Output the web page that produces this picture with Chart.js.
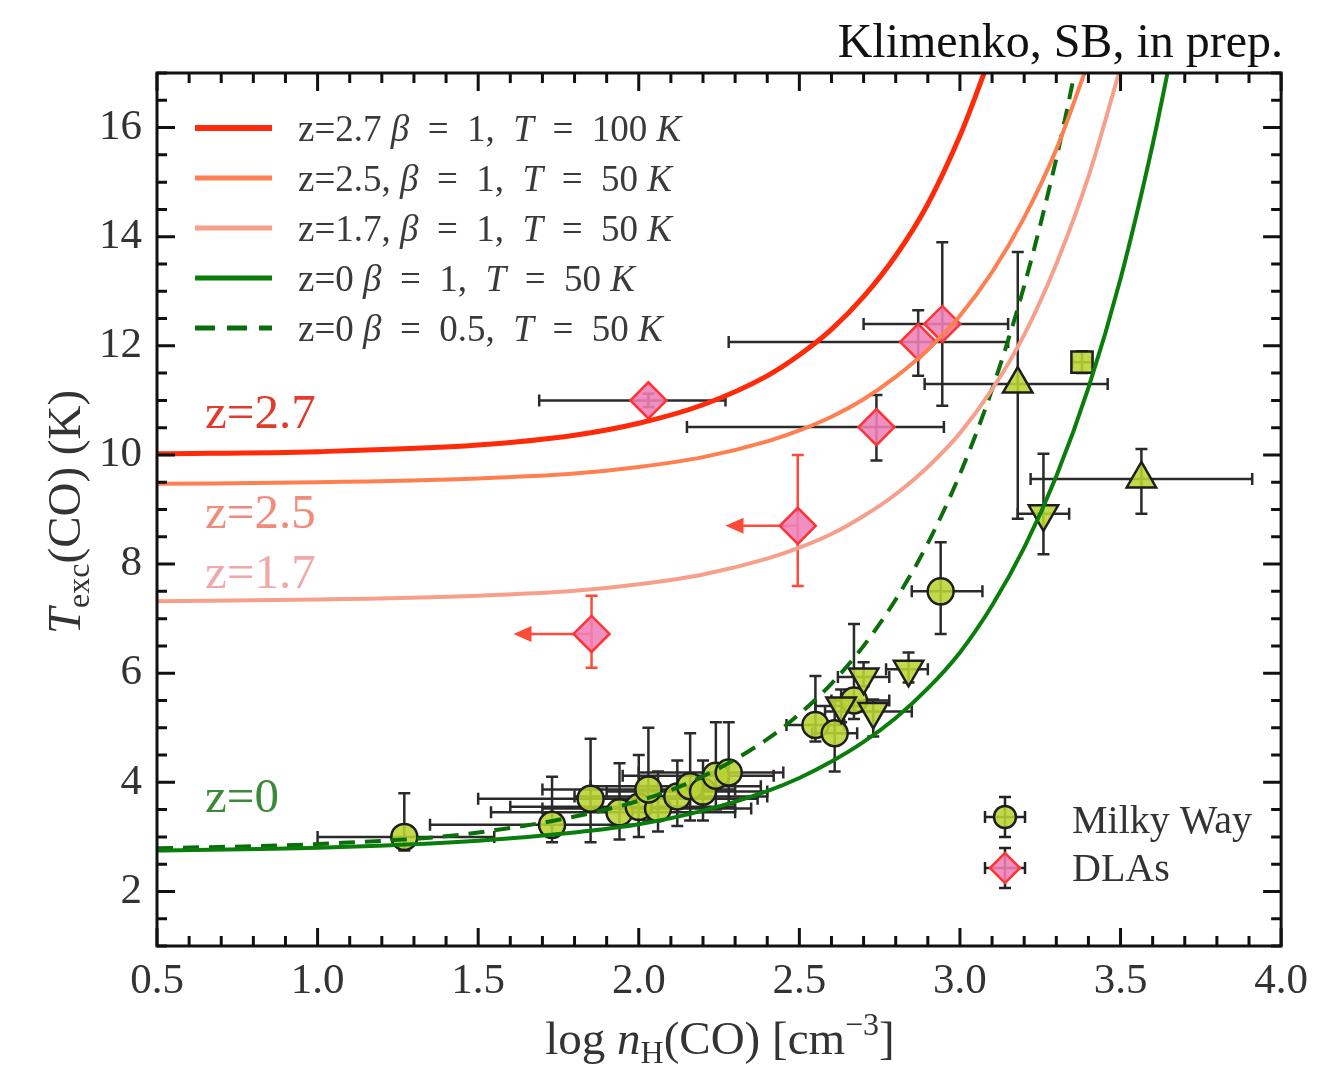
<!DOCTYPE html>
<html lang="en">
<head>
<meta charset="UTF-8">
<title>Texc(CO) vs log nH(CO)</title>
<script src="https://cdn.jsdelivr.net/npm/chart.js@4.4.1/dist/chart.umd.min.js"></script>
<style>
  html, body { margin: 0; padding: 0; background: #fff; }
  #wrap { width: 1318px; height: 1070px; }
</style>
</head>
<body>
<div id="wrap"><canvas id="grafik" width="1318" height="1070"></canvas></div>
<script>
// tick labels
const xTicks = [0.5, 1.0, 1.5, 2.0, 2.5, 3.0, 3.5, 4.0];
const yTicks = [2, 4, 6, 8, 10, 12, 14, 16];

// model curves, Texc vs log nH
const z27X = [0.5, 1.0, 1.5, 1.8, 2.0, 2.2, 2.4, 2.5, 2.6, 2.7, 2.8, 2.9, 3.0, 3.05, 3.1];
const z27Y = [10.02, 10.06, 10.18, 10.36, 10.58, 10.92, 11.45, 11.83, 12.3, 12.9, 13.65, 14.6, 15.85, 16.6, 17.4];

const z25X = [0.5, 1.0, 1.5, 1.8, 2.0, 2.2, 2.4, 2.5, 2.6, 2.7, 2.8, 2.9, 3.0, 3.1, 3.2, 3.3, 3.4];
const z25Y = [9.47, 9.5, 9.57, 9.66, 9.78, 9.96, 10.25, 10.45, 10.7, 11.02, 11.43, 11.93, 12.55, 13.35, 14.35, 15.6, 17.2];

const z17X = [0.5, 1.0, 1.5, 1.8, 2.0, 2.2, 2.4, 2.5, 2.6, 2.7, 2.8, 2.9, 3.0, 3.1, 3.2, 3.3, 3.4, 3.5];
const z17Y = [7.32, 7.35, 7.42, 7.51, 7.63, 7.81, 8.1, 8.3, 8.55, 8.88, 9.28, 9.78, 10.4, 11.2, 12.2, 13.5, 15.1, 17.1];

const z0X = [0.5, 1.0, 1.5, 1.8, 2.0, 2.2, 2.4, 2.5, 2.6, 2.7, 2.8, 2.9, 3.0, 3.1, 3.2, 3.3, 3.4, 3.5, 3.6, 3.66];
const z0Y = [2.75, 2.8, 2.93, 3.08, 3.23, 3.48, 3.84, 4.08, 4.38, 4.74, 5.18, 5.72, 6.38, 7.24, 8.3, 9.61, 11.23, 13.23, 15.69, 17.4];

const z0hX = [0.5, 1.0, 1.5, 2.0, 2.2, 2.4, 2.5, 2.6, 2.7, 2.8, 2.9, 3.0, 3.1, 3.2, 3.3, 3.35, 3.4];
const z0hY = [2.79, 2.87, 3.08, 3.66, 4.11, 4.79, 5.25, 5.81, 6.5, 7.35, 8.38, 9.65, 11.2, 13.1, 15.43, 16.8, 18.3];

// Milky Way measurements
const mwX    = [1.27, 1.73, 1.85, 1.94, 2.0, 2.06, 2.03, 2.12, 2.16, 2.2, 2.24, 2.28, 2.55, 2.61, 2.67, 2.63, 2.70, 2.73, 2.84, 2.94, 3.26, 3.18, 3.38, 3.565];
const mwY    = [3.0, 3.22, 3.7, 3.45, 3.55, 3.52, 3.87, 3.74, 3.93, 3.83, 4.12, 4.18, 5.05, 4.9, 5.5, 5.4, 5.93, 5.3, 6.07, 7.5, 8.92, 11.3, 11.7, 9.56];
const mwXlo  = [1.0, 1.35, 1.5, 1.54, 1.6, 1.7, 1.7, 1.8, 1.85, 1.9, 1.95, 2.0, 2.46, 2.54, 2.6, 2.55, 2.62, 2.58, 2.77, 2.85, 3.18, 2.89, 3.35, 3.22];
const mwXhi  = [1.55, 2.0, 2.37, 2.3, 2.3, 2.35, 2.3, 2.4, 2.38, 2.4, 2.42, 2.45, 2.64, 2.68, 2.78, 2.7, 2.78, 2.85, 2.9, 3.07, 3.34, 3.46, 3.41, 3.91];
const mwYlo  = [2.75, 2.9, 2.9, 2.95, 3.0, 3.1, 3.3, 3.2, 3.3, 3.3, 3.5, 3.6, 4.75, 4.2, 5.16, 5.1, 5.76, 4.84, 5.83, 6.72, 8.18, 8.83, 11.5, 8.92];
const mwYhi  = [3.8, 4.1, 4.8, 4.35, 4.5, 4.2, 5.0, 4.4, 4.9, 4.4, 5.1, 5.1, 5.95, 5.5, 6.9, 5.7, 6.2, 5.52, 6.38, 8.4, 10.02, 13.72, 11.9, 10.11];
const mwShape = ['circle', 'circle', 'circle', 'circle', 'circle', 'circle', 'circle', 'circle', 'circle', 'circle', 'circle', 'circle',
                 'circle', 'circle', 'circle', 'down', 'down', 'down', 'down', 'circle', 'down', 'up', 'square', 'up'];

// DLA measurements (upper limits on nH drawn as arrows)
const dlaX   = [2.03, 2.87, 2.945, 2.74, 2.495, 1.853];
const dlaY   = [11.0, 12.07, 12.4, 10.51, 8.7, 6.72];
const dlaXlo = [1.69, 2.28, 2.70, 2.15, 2.27, 1.61];
const dlaXhi = [2.27, 3.15, 3.15, 2.95, null, null];
const dlaYlo = [10.88, 11.45, 10.9, 9.9, 7.6, 6.1];
const dlaYhi = [11.12, 12.65, 13.9, 11.1, 10.0, 7.42];
const dlaLimit = [false, false, false, false, true, true];

const SERIF = '"Liberation Serif", "DejaVu Serif", serif';
const F = (size, italic) => (italic ? 'italic ' : '') + size + 'px ' + SERIF;

const RED = '#ff2a0a', ORANGE = '#ff7f50', PINK = '#f6a08c', GREEN = '#0b7d0b', DGREEN = '#0b6e0b';
const MW_FILL = 'rgba(184, 212, 50, 0.88)', MW_EDGE = '#1e1e1e';
const DLA_FILL = 'rgba(240, 128, 184, 0.88)', DLA_EDGE = '#ff3333';

const pts = (xs, ys) => xs.map((v, i) => ({ x: v, y: ys[i] }));

function curve(xs, ys, color, width, dash) {
    return {
        data: pts(xs, ys), showLine: true, pointRadius: 0, borderColor: color, borderWidth: width,
        borderDash: dash || [], cubicInterpolationMode: 'monotone', order: 0, fill: false
    };
}

const styleOf = s => s === 'circle' ? 'circle' : s === 'square' ? 'rect' : 'triangle';
const rotOf = s => s === 'down' ? 180 : 0;
const radOf = s => s === 'circle' ? 13 : s === 'square' ? 15 : 17;

// draws several text pieces in a row: [text, font, dy]
function richText(ctx, parts, x, y, align) {
    let w = 0;
    parts.forEach(p => { ctx.font = p[1]; w += ctx.measureText(p[0]).width; });
    let cx = align === 'center' ? x - w / 2 : (align === 'right' ? x - w : x);
    ctx.textAlign = 'left';
    parts.forEach(p => {
        ctx.font = p[1];
        ctx.fillText(p[0], cx, y + (p[2] || 0));
        cx += ctx.measureText(p[0]).width;
    });
}

const errPlugin = {
    id: 'errbars',
    beforeDatasetsDraw(chart) {
        const { ctx, chartArea: a, scales: { x, y } } = chart;
        const cap = 6;
        ctx.save();
        ctx.beginPath(); ctx.rect(a.left, a.top, a.right - a.left, a.bottom - a.top); ctx.clip();
        ctx.lineWidth = 2.5;
        const seg = (x1, y1, x2, y2) => { ctx.beginPath(); ctx.moveTo(x1, y1); ctx.lineTo(x2, y2); ctx.stroke(); };
        const bars = (px, py, lo, hi, ylo, yhi) => {
            if (lo !== null) {
                seg(lo, py, hi, py);
                seg(lo, py - cap, lo, py + cap); seg(hi, py - cap, hi, py + cap);
            }
            seg(px, ylo, px, yhi);
            seg(px - cap, ylo, px + cap, ylo); seg(px - cap, yhi, px + cap, yhi);
        };
        ctx.strokeStyle = '#2a2a2a';
        mwX.forEach((v, i) => {
            bars(x.getPixelForValue(v), y.getPixelForValue(mwY[i]),
                 x.getPixelForValue(mwXlo[i]), x.getPixelForValue(mwXhi[i]),
                 y.getPixelForValue(mwYlo[i]), y.getPixelForValue(mwYhi[i]));
        });
        dlaX.forEach((v, i) => {
            const px = x.getPixelForValue(v), py = y.getPixelForValue(dlaY[i]);
            const ylo = y.getPixelForValue(dlaYlo[i]), yhi = y.getPixelForValue(dlaYhi[i]);
            if (dlaLimit[i]) {
                ctx.strokeStyle = '#ff4a3a'; ctx.fillStyle = '#ff4a3a';
                const tip = x.getPixelForValue(dlaXlo[i]);
                bars(px, py, null, null, ylo, yhi);
                seg(px, py, tip + 12, py);
                ctx.beginPath(); ctx.moveTo(tip, py); ctx.lineTo(tip + 18, py - 8); ctx.lineTo(tip + 18, py + 8); ctx.closePath(); ctx.fill();
            } else {
                ctx.strokeStyle = '#2a2a2a';
                bars(px, py, x.getPixelForValue(dlaXlo[i]), x.getPixelForValue(dlaXhi[i]), ylo, yhi);
            }
        });
        ctx.restore();
    }
};

const decorPlugin = {
    id: 'decor',
    afterDraw(chart) {
        const { ctx, chartArea: a, scales: { x, y } } = chart;
        ctx.save();
        // ticks on all four sides, pointing inwards
        ctx.strokeStyle = '#111'; ctx.lineWidth = 3;
        for (let i = 5; i <= 40; i++) {
            const px = x.getPixelForValue(i / 10), len = i % 5 === 0 ? 18 : 10;
            ctx.beginPath();
            ctx.moveTo(px, a.bottom); ctx.lineTo(px, a.bottom - len);
            ctx.moveTo(px, a.top); ctx.lineTo(px, a.top + len);
            ctx.stroke();
        }
        for (let j = 2; j <= 34; j++) {
            const py = y.getPixelForValue(j / 2), len = (j / 2) % 2 === 0 ? 18 : 10;
            ctx.beginPath();
            ctx.moveTo(a.left, py); ctx.lineTo(a.left + len, py);
            ctx.moveTo(a.right, py); ctx.lineTo(a.right - len, py);
            ctx.stroke();
        }
        ctx.strokeRect(a.left, a.top, a.right - a.left, a.bottom - a.top);

        ctx.textBaseline = 'alphabetic';
        // reference note
        ctx.fillStyle = '#111';
        ctx.font = F(48); ctx.textAlign = 'right';
        ctx.fillText('Klimenko, SB, in prep.', 1283, 57);

        // axis titles
        ctx.fillStyle = '#333';
        richText(ctx, [['log ', F(47)], ['n', F(47, true)], ['H', F(32), 9], ['(CO) [cm', F(47)], ['\u22123', F(32), -19], [']', F(47)]], 720, 1054, 'center');
        ctx.save();
        ctx.translate(80, 512); ctx.rotate(-Math.PI / 2);
        richText(ctx, [['T', F(47, true)], ['exc', F(32), 9], ['(CO) (K)', F(47)]], 0, 0, 'center');
        ctx.restore();

        // curve legend
        const items = [
            [RED, 6, [], ['z=2.7 ', '  =  1,  ', '  =  100 ']],
            [ORANGE, 5, [], ['z=2.5, ', '  =  1,  ', '  =  50 ']],
            [PINK, 5, [], ['z=1.7, ', '  =  1,  ', '  =  50 ']],
            [GREEN, 5, [], ['z=0 ', '  =  1,  ', '  =  50 ']],
            [DGREEN, 5, [20, 12], ['z=0 ', '  =  0.5,  ', '  =  50 ']]
        ];
        items.forEach((it, k) => {
            const ly = 128 + k * 50;
            ctx.strokeStyle = it[0]; ctx.lineWidth = it[1]; ctx.setLineDash(it[2]);
            ctx.beginPath(); ctx.moveTo(195, ly); ctx.lineTo(272, ly); ctx.stroke();
            ctx.setLineDash([]);
            ctx.fillStyle = '#3a3a3a';
            const t = it[3];
            richText(ctx, [[t[0], F(37)], ['\u03b2', F(37, true)], [t[1], F(37)], ['T', F(37, true)], [t[2], F(37)], ['K', F(37, true)]], 298, ly + 13, 'left');
        });

        // curve labels
        ctx.font = F(49); ctx.textAlign = 'left';
        ctx.fillStyle = '#e23b2b'; ctx.fillText('z=2.7', 205, 428);
        ctx.fillStyle = '#f28c7a'; ctx.fillText('z=2.5', 205, 528);
        ctx.fillStyle = '#f0a8a8'; ctx.fillText('z=1.7', 205, 588);
        ctx.fillStyle = '#3a8a3a'; ctx.fillText('z=0', 205, 812);

        // data legend
        const mark = (cx, cy, style, fill, edge, r) => {
            ctx.strokeStyle = '#222'; ctx.lineWidth = 2.5;
            ctx.beginPath();
            ctx.moveTo(cx - 20, cy); ctx.lineTo(cx + 20, cy);
            ctx.moveTo(cx - 20, cy - 6); ctx.lineTo(cx - 20, cy + 6);
            ctx.moveTo(cx + 20, cy - 6); ctx.lineTo(cx + 20, cy + 6);
            ctx.moveTo(cx, cy - 20); ctx.lineTo(cx, cy + 20);
            ctx.moveTo(cx - 6, cy - 20); ctx.lineTo(cx + 6, cy - 20);
            ctx.moveTo(cx - 6, cy + 20); ctx.lineTo(cx + 6, cy + 20);
            ctx.stroke();
            ctx.fillStyle = fill; ctx.strokeStyle = edge;
            Chart.helpers.drawPoint(ctx, { pointStyle: style, radius: r, rotation: 0, borderWidth: 2.5 }, cx, cy);
        };
        mark(1005, 817, 'circle', MW_FILL, MW_EDGE, 11);
        mark(1005, 868, 'rectRot', DLA_FILL, DLA_EDGE, 15);
        ctx.fillStyle = '#333'; ctx.font = F(40); ctx.textAlign = 'left';
        ctx.fillText('Milky Way', 1072, 833);
        ctx.fillText('DLAs', 1072, 881);
        ctx.restore();
    }
};

const tickFont = { family: SERIF, size: 43 };

new Chart(document.getElementById('grafik'), {
    type: 'scatter',
    data: {
        datasets: [
            curve(z27X, z27Y, RED, 5),
            curve(z25X, z25Y, ORANGE, 4),
            curve(z17X, z17Y, PINK, 4),
            curve(z0X, z0Y, GREEN, 4),
            curve(z0hX, z0hY, DGREEN, 4, [16, 10]),
            {
                label: 'Milky Way', data: pts(mwX, mwY), order: 1,
                pointStyle: mwShape.map(styleOf), pointRotation: mwShape.map(rotOf), pointRadius: mwShape.map(radOf),
                pointBackgroundColor: MW_FILL, pointBorderColor: MW_EDGE, pointBorderWidth: 2.5
            },
            {
                label: 'DLAs', data: pts(dlaX, dlaY), order: 1,
                pointStyle: 'rectRot', pointRadius: 18,
                pointBackgroundColor: DLA_FILL, pointBorderColor: DLA_EDGE, pointBorderWidth: 2.5
            }
        ]
    },
    options: {
        responsive: false,
        animation: false,
        events: [],
        layout: { padding: { top: 73, right: 33, left: 0, bottom: 0 } },
        plugins: { legend: { display: false }, tooltip: { enabled: false } },
        scales: {
            x: {
                type: 'linear', min: 0.5, max: 4.0,
                afterBuildTicks: s => { s.ticks = xTicks.map(v => ({ value: v })); },
                afterFit: s => { s.height = 124; },
                grid: { display: false, drawTicks: false }, border: { display: false },
                ticks: { font: tickFont, color: '#333', padding: 10, maxRotation: 0, autoSkip: false, callback: v => v.toFixed(1) }
            },
            y: {
                type: 'linear', min: 1, max: 17,
                afterBuildTicks: s => { s.ticks = yTicks.map(v => ({ value: v })); },
                afterFit: s => { s.width = 157; },
                grid: { display: false, drawTicks: false }, border: { display: false },
                ticks: { font: tickFont, color: '#333', padding: 15, autoSkip: false, callback: v => String(v) }
            }
        }
    },
    plugins: [errPlugin, decorPlugin]
});
</script>
</body>
</html>
